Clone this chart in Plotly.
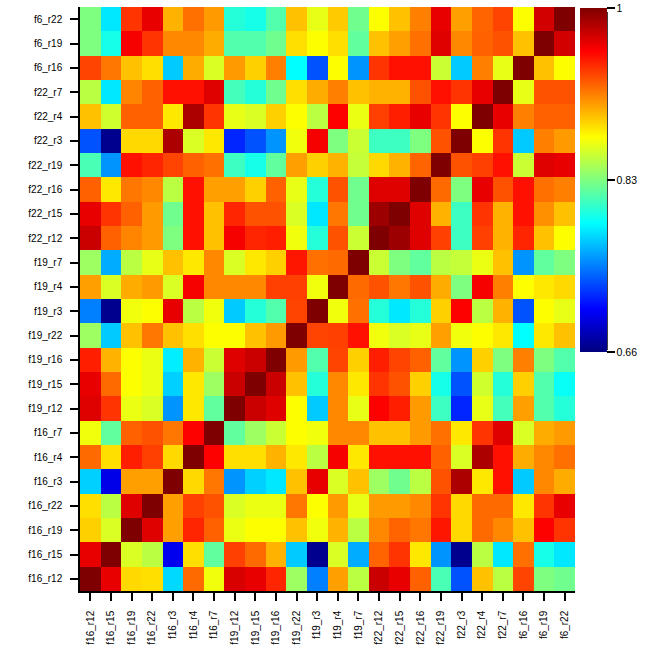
import plotly.graph_objects as go

labels = ["f16_r12", "f16_r15", "f16_r19", "f16_r22", "f16_r3", "f16_r4", "f16_r7",
          "f19_r12", "f19_r15", "f19_r16", "f19_r22", "f19_r3", "f19_r4", "f19_r7",
          "f22_r12", "f22_r15", "f22_r16", "f22_r19", "f22_r3", "f22_r4", "f22_r7",
          "f6_r16", "f6_r19", "f6_r22"]

# rows in label order (bottom to top), columns in label order (left to right)
corr = [
    [1.0, 0.965, 0.885, 0.883, 0.775, 0.922, 0.868, 0.97, 0.965, 0.945, 0.84, 0.745, 0.904, 0.85, 0.975, 0.965, 0.925, 0.812, 0.73, 0.893, 0.85, 0.935, 0.83, 0.825],
    [0.965, 1.0, 0.86, 0.85, 0.697, 0.883, 0.82, 0.936, 0.922, 0.898, 0.77, 0.665, 0.86, 0.76, 0.924, 0.94, 0.88, 0.752, 0.665, 0.85, 0.78, 0.92, 0.795, 0.78],
    [0.888, 0.86, 1.0, 0.968, 0.904, 0.945, 0.925, 0.866, 0.872, 0.872, 0.893, 0.868, 0.898, 0.85, 0.912, 0.924, 0.918, 0.95, 0.885, 0.922, 0.912, 0.893, 0.958, 0.94],
    [0.883, 0.85, 0.968, 1.0, 0.904, 0.936, 0.93, 0.86, 0.866, 0.866, 0.918, 0.872, 0.906, 0.865, 0.906, 0.906, 0.912, 0.94, 0.885, 0.922, 0.922, 0.88, 0.94, 0.965],
    [0.772, 0.695, 0.904, 0.904, 1.0, 0.885, 0.918, 0.752, 0.772, 0.78, 0.893, 0.965, 0.86, 0.893, 0.84, 0.825, 0.85, 0.93, 0.985, 0.88, 0.952, 0.77, 0.912, 0.90],
    [0.922, 0.883, 0.947, 0.936, 0.885, 1.0, 0.958, 0.883, 0.883, 0.898, 0.88, 0.85, 0.96, 0.88, 0.952, 0.952, 0.952, 0.925, 0.86, 0.985, 0.952, 0.90, 0.912, 0.92],
    [0.868, 0.82, 0.925, 0.93, 0.918, 0.958, 1.0, 0.82, 0.84, 0.855, 0.872, 0.868, 0.912, 0.912, 0.893, 0.893, 0.906, 0.92, 0.88, 0.94, 0.968, 0.86, 0.90, 0.906],
    [0.968, 0.94, 0.866, 0.86, 0.752, 0.88, 0.82, 1.0, 0.975, 0.968, 0.872, 0.77, 0.912, 0.865, 0.958, 0.947, 0.906, 0.808, 0.715, 0.865, 0.81, 0.904, 0.815, 0.80],
    [0.965, 0.922, 0.872, 0.866, 0.772, 0.88, 0.84, 0.975, 1.0, 0.975, 0.893, 0.80, 0.912, 0.88, 0.94, 0.93, 0.888, 0.795, 0.73, 0.857, 0.80, 0.888, 0.815, 0.79],
    [0.947, 0.898, 0.872, 0.866, 0.782, 0.898, 0.855, 0.968, 0.975, 1.0, 0.906, 0.815, 0.935, 0.888, 0.947, 0.935, 0.925, 0.82, 0.752, 0.888, 0.83, 0.915, 0.83, 0.815],
    [0.84, 0.77, 0.893, 0.918, 0.893, 0.883, 0.872, 0.872, 0.893, 0.906, 1.0, 0.935, 0.936, 0.952, 0.868, 0.86, 0.865, 0.904, 0.868, 0.872, 0.88, 0.7875, 0.88, 0.893],
    [0.745, 0.665, 0.868, 0.872, 0.965, 0.85, 0.868, 0.77, 0.80, 0.815, 0.935, 1.0, 0.868, 0.92, 0.80, 0.78, 0.80, 0.888, 0.958, 0.85, 0.898, 0.73, 0.872, 0.865],
    [0.904, 0.86, 0.90, 0.906, 0.86, 0.96, 0.912, 0.912, 0.912, 0.936, 0.936, 0.868, 1.0, 0.922, 0.93, 0.918, 0.93, 0.90, 0.83, 0.96, 0.915, 0.872, 0.88, 0.885],
    [0.84, 0.76, 0.85, 0.865, 0.893, 0.88, 0.912, 0.86, 0.88, 0.888, 0.95, 0.92, 0.922, 1.0, 0.855, 0.83, 0.82, 0.85, 0.853, 0.866, 0.893, 0.752, 0.82, 0.83],
    [0.975, 0.925, 0.913, 0.906, 0.83, 0.952, 0.893, 0.96, 0.945, 0.947, 0.868, 0.80, 0.93, 0.855, 1.0, 0.99, 0.968, 0.936, 0.808, 0.936, 0.898, 0.945, 0.893, 0.872],
    [0.965, 0.94, 0.925, 0.906, 0.825, 0.952, 0.893, 0.945, 0.93, 0.93, 0.86, 0.78, 0.918, 0.825, 0.99, 1.0, 0.968, 0.898, 0.808, 0.94, 0.898, 0.952, 0.909, 0.893],
    [0.925, 0.88, 0.918, 0.912, 0.85, 0.952, 0.904, 0.904, 0.888, 0.925, 0.865, 0.80, 0.93, 0.825, 0.968, 0.968, 1.0, 0.922, 0.83, 0.965, 0.93, 0.952, 0.92, 0.915],
    [0.812, 0.752, 0.952, 0.945, 0.935, 0.925, 0.92, 0.808, 0.795, 0.82, 0.904, 0.888, 0.898, 0.853, 0.885, 0.898, 0.924, 1.0, 0.93, 0.936, 0.952, 0.855, 0.968, 0.965],
    [0.73, 0.665, 0.885, 0.885, 0.985, 0.86, 0.88, 0.715, 0.73, 0.752, 0.868, 0.96, 0.83, 0.855, 0.808, 0.808, 0.83, 0.93, 1.0, 0.872, 0.94, 0.77, 0.915, 0.906],
    [0.893, 0.857, 0.925, 0.925, 0.88, 0.985, 0.94, 0.865, 0.86, 0.888, 0.872, 0.85, 0.958, 0.866, 0.936, 0.947, 0.965, 0.94, 0.872, 1.0, 0.965, 0.915, 0.925, 0.925],
    [0.85, 0.78, 0.913, 0.925, 0.952, 0.952, 0.968, 0.81, 0.80, 0.825, 0.883, 0.90, 0.915, 0.893, 0.898, 0.898, 0.93, 0.952, 0.94, 0.965, 1.0, 0.865, 0.93, 0.93],
    [0.935, 0.918, 0.893, 0.883, 0.77, 0.90, 0.86, 0.906, 0.888, 0.915, 0.7875, 0.73, 0.872, 0.752, 0.94, 0.952, 0.952, 0.855, 0.77, 0.915, 0.865, 1.0, 0.893, 0.872],
    [0.83, 0.795, 0.96, 0.94, 0.912, 0.912, 0.90, 0.815, 0.815, 0.825, 0.883, 0.872, 0.883, 0.82, 0.893, 0.904, 0.92, 0.968, 0.912, 0.925, 0.93, 0.893, 1.0, 0.972],
    [0.83, 0.78, 0.94, 0.965, 0.898, 0.92, 0.906, 0.80, 0.795, 0.815, 0.893, 0.865, 0.89, 0.825, 0.872, 0.893, 0.915, 0.965, 0.904, 0.924, 0.935, 0.872, 0.972, 1.0],
]

zmin, zmax = 0.66, 1.0
cbar_ticks = [0.66, 0.83, 1.0]
cbar_ticktext = ["0.66", "0.83", "1"]

jet = [[0.0, "#00007F"], [0.125, "#0000FF"], [0.25, "#007FFF"], [0.375, "#00FFFF"],
       [0.5, "#7FFF7F"], [0.625, "#FFFF00"], [0.75, "#FF7F00"], [0.875, "#FF0000"],
       [1.0, "#7F0000"]]

idx = list(range(len(labels)))
font = dict(family="Liberation Sans, Arial, sans-serif", size=10, color="black")

fig = go.Figure(go.Heatmap(
    z=corr, x=idx, y=idx, zmin=zmin, zmax=zmax, colorscale=jet,
    colorbar=dict(
        thickness=27, lenmode="pixels", len=344, x=1.0101, xanchor="left", xpad=0,
        y=0.9983, yanchor="top", ypad=0, outlinewidth=0,
        tickvals=cbar_ticks, ticktext=cbar_ticktext, ticks="outside", ticklen=8,
        tickcolor="black", tickwidth=1.5,
        tickfont=dict(family=font["family"], size=10.5, color="black"),
    ),
))

axis_common = dict(
    tickvals=idx, ticktext=labels, showgrid=False, zeroline=False,
    showline=True, linecolor="black", linewidth=1.5, ticks="outside", ticklen=8,
    tickwidth=1.5, tickcolor="black", tickfont=font, range=[-0.5, 23.5],
    ticklabelstandoff=6, automargin=False,
)
fig.update_xaxes(**axis_common, tickangle=-90)
fig.update_yaxes(**axis_common)

# colorbar axis line (R style)
fig.add_shape(type="line", xref="paper", yref="paper",
              x0=(607 - 80) / 495, x1=(607 - 80) / 495,
              y0=(591 - 12) / 584, y1=(591 - 350) / 584,
              line=dict(color="black", width=1.5))

fig.update_layout(
    width=672, height=671,
    margin=dict(l=80, r=97, t=7, b=80, autoexpand=False),
    paper_bgcolor="white", plot_bgcolor="white",
)

fig.write_html("out.html", config={"displayModeBar": False},
               post_script="document.body.style.margin='0';document.body.style.overflow='hidden';")
